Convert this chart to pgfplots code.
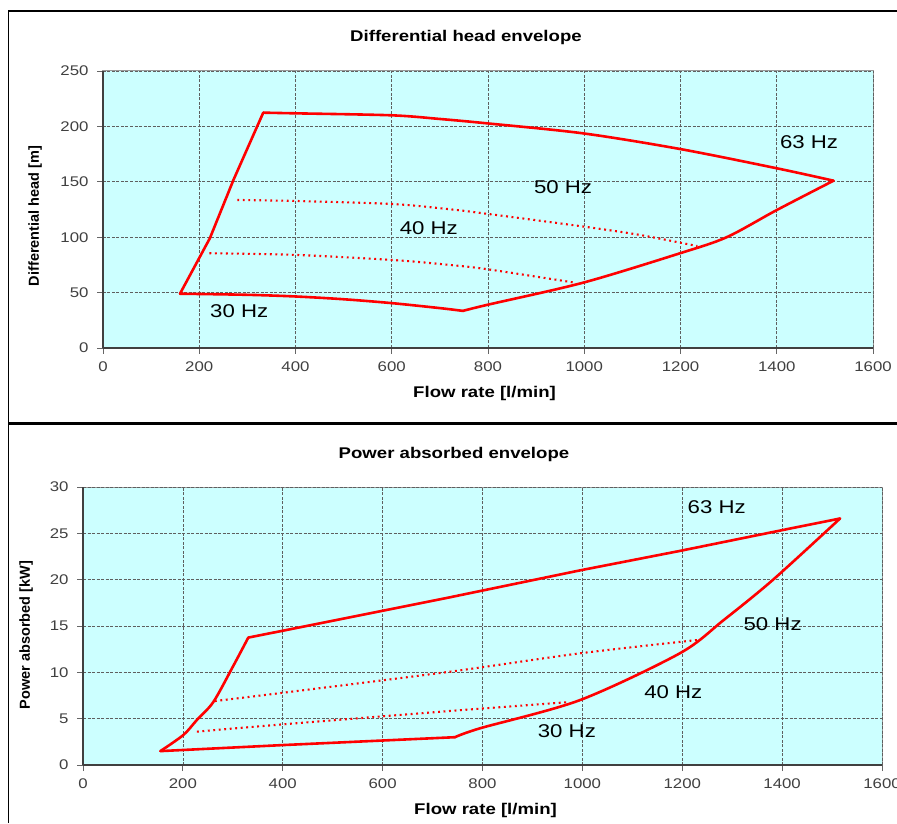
\documentclass[border=0pt]{standalone}
\usepackage{fontspec}
\setmainfont{Liberation Sans}[FakeStretch=1.2]
\newfontfamily\ylabfont{Liberation Sans}
\usepackage{pgfplots}
\pgfplotsset{compat=1.18}

\definecolor{bgcyan}{RGB}{204,255,255}
\definecolor{gridgray}{RGB}{95,95,95}
\definecolor{envred}{RGB}{255,0,0}

\pgfplotsset{
  envelope/.style={
    scale only axis,
    axis lines=left,
    axis line style={-, black!75, line width=1.3pt},
    axis background/.style={fill=bgcyan, draw=black!40, line width=1pt},
    grid=major,
    major grid style={gridgray, line width=0.7pt, dash pattern=on 3pt off 1.5pt},
    tick align=outside, major tick length=6pt,
    tick style={black!60, line width=0.8pt},
    xmin=0, xmax=1600, xtick={0,200,...,1600},
    /pgf/number format/assume math mode=true,
    /pgf/number format/1000 sep={},
    ticklabel style={font=\fontsize{14}{14}\selectfont, text=black!75},
    yticklabel style={xshift=-5pt},
    xticklabel style={yshift=-4pt},
    xlabel style={font=\bfseries\fontsize{15.5}{16}\selectfont, anchor=center},
    ylabel style={font=\ylabfont\bfseries\fontsize{14.5}{15}\selectfont, anchor=center},
  },
  env/.style={envred, line width=2.6pt, line join=round, line cap=round},
  dots/.style={envred, line width=2.1pt, dash pattern=on 1.9pt off 3.6pt},
}
\newcommand{\hz}[1]{\fontsize{18.5}{19}\selectfont #1}

\begin{document}
\begin{tikzpicture}
\path[use as bounding box] (0,0) rectangle (897pt,823pt);

% frames round the two panels
\draw[black, line width=1.6pt] (8.5pt,0pt) -- (8.5pt,812pt) -- (897pt,812pt);
\draw[black, line width=3pt] (8.5pt,399pt) -- (897pt,399pt);

% ---------- differential head ----------
\begin{axis}[envelope,
    at={(103pt,475pt)}, anchor=south west,
    width=770pt, height=277pt,
    ymin=0, ymax=250, ytick={0,50,...,250},
    title={Differential head envelope},
    title style={at={(axis description cs:0.4714,1.101)}, anchor=center, yshift=0pt,
      font=\bfseries\fontsize{15.5}{16}\selectfont},
    xlabel={Flow rate [l/min]},
    xlabel style={at={(axis description cs:0.4955,-0.1625)}},
    ylabel={Differential head [m]},
    ylabel style={at={(axis description cs:-0.0883,0.4765)}},
]
% 30 Hz
\addplot[env, smooth] coordinates {
  (160,49) (300,48) (400,46.5) (500,44) (600,40.5) (700,36) (748,33.5)
};
% right-hand limit
\addplot[env, smooth] coordinates {
  (748,33.5) (797,38.8) (998,59) (1199,85.5) (1296,100) (1400,124.5) (1518,151)
};
% 63 Hz
\addplot[env, smooth] coordinates {
  (1518,151) (1400,162.2) (1199,179.6) (998,193.7) (797,202.8) (700,206.7)
  (600,210) (400,211.8) (333,212.4)
};
% left-hand limit
\addplot[env] coordinates {
  (333,212.4) (271,151.6) (222,99) (160,49)
};
% 50 Hz
\addplot[dots, smooth] coordinates {
  (279,133.6) (400,132.7) (600,130) (721,125.2) (800,121) (1000,109.5)
  (1116,102) (1235,92)
};
% 40 Hz
\addplot[dots, smooth] coordinates {
  (221,85.5) (400,84) (600,79.5) (720,75) (800,71) (980,59)
};
\node at (axis cs:1467,186) {\hz{63 Hz}};
\node at (axis cs:956,145) {\hz{50 Hz}};
\node at (axis cs:677,108) {\hz{40 Hz}};
\node at (axis cs:283,33) {\hz{30 Hz}};
\end{axis}

% ---------- power absorbed ----------
\begin{axis}[envelope,
    at={(83pt,58pt)}, anchor=south west,
    width=799pt, height=278pt,
    ymin=0, ymax=30, ytick={0,5,...,30},
    title={Power absorbed envelope},
    title style={at={(axis description cs:0.4643,1.0936)}, anchor=center, yshift=0pt,
      font=\bfseries\fontsize{15.5}{16}\selectfont},
    xlabel={Flow rate [l/min]},
    xlabel style={at={(axis description cs:0.5038,-0.162)}},
    ylabel={Power absorbed [kW]},
    ylabel style={at={(axis description cs:-0.0713,0.4676)}},
]
% 30 Hz
\addplot[env] coordinates {
  (155,1.5) (400,2.15) (745,3.0)
};
% right-hand limit
\addplot[env, smooth] coordinates {
  (745,3.0) (795,3.96) (995,7.0) (1195,12.05) (1282,15.6) (1382,20) (1516,26.6)
};
% 63 Hz
\addplot[env] coordinates {
  (1516,26.6) (1396,25.3) (1195,23.1) (995,21) (735,18.1) (401,14.5) (331,13.75)
};
% left-hand limit
\addplot[env, smooth] coordinates {
  (331,13.75) (300,10.6) (261,6.8) (228,4.86) (201,3.24) (155,1.5)
};
% 50 Hz
\addplot[dots, smooth] coordinates {
  (264,6.9) (401,7.8) (735,10.07) (995,12.05) (1232,13.5)
};
% 40 Hz
\addplot[dots, smooth] coordinates {
  (228,3.6) (401,4.39) (735,5.83) (969,6.77)
};
\node at (axis cs:1269,27.8) {\hz{63 Hz}};
\node at (axis cs:1381,15.2) {\hz{50 Hz}};
\node at (axis cs:1182,7.9) {\hz{40 Hz}};
\node at (axis cs:969,3.7) {\hz{30 Hz}};
\end{axis}
\end{tikzpicture}
\end{document}
